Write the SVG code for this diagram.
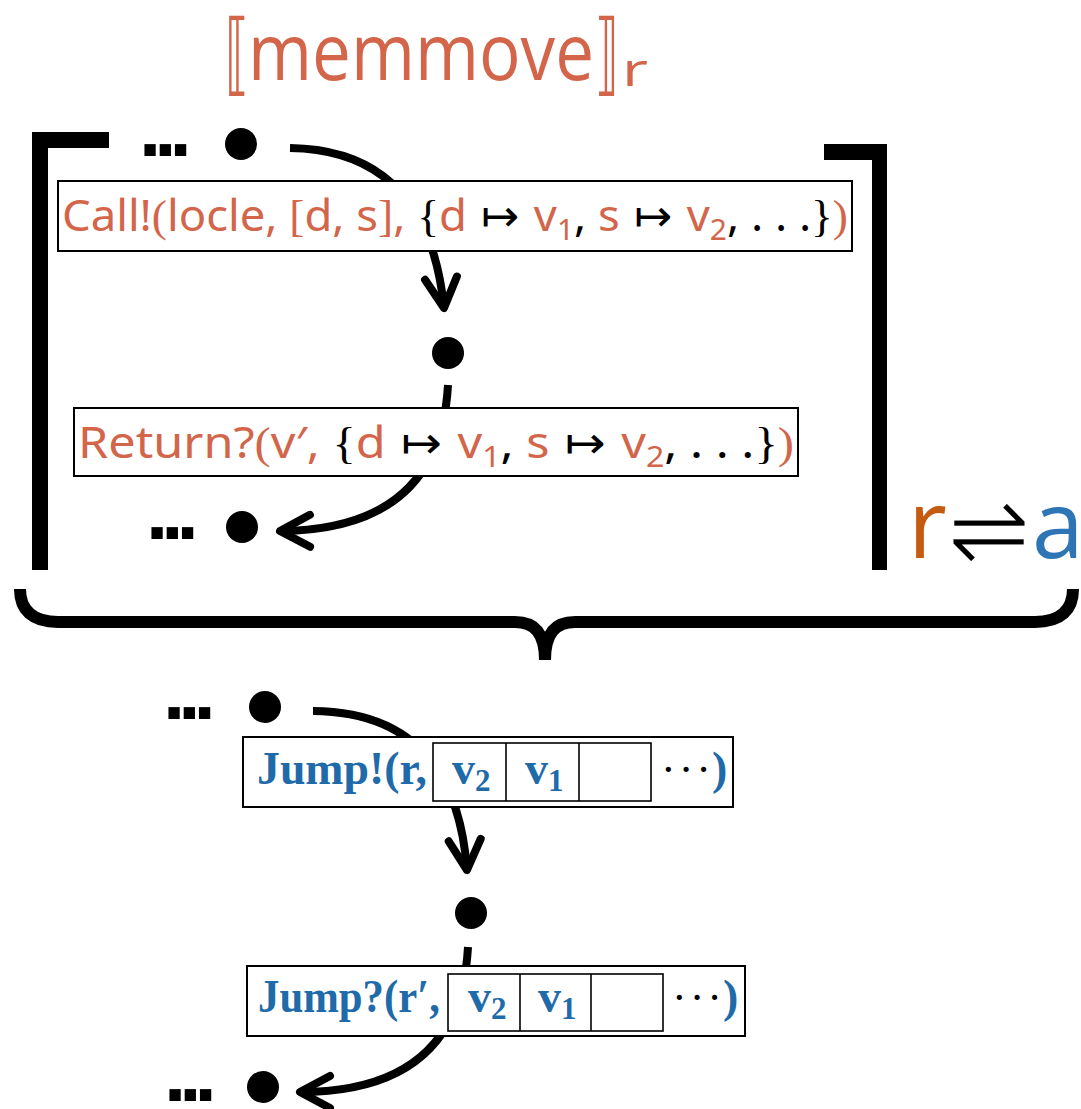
<svg xmlns="http://www.w3.org/2000/svg" width="1081" height="1109" viewBox="0 0 1081 1109">
  <style>
    .o { fill: #d2654a; }
    .k { fill: #000; }
    .b { fill: #1f6aa8; }
    .p { font-family: "Liberation Serif", "DejaVu Serif", serif; }
    .m { font-family: "DejaVu Sans", sans-serif; }
    .os { font-family: "Open Sans", "Noto Sans", sans-serif; }
    .lbl { font-family: "Noto Sans", "DejaVu Sans", sans-serif; font-size: 44px; }
    .sb { font-size: 29px; }
    .jmp { font-family: "Liberation Serif", "DejaVu Serif", serif; font-size: 46px; font-weight: bold; }
    .jsb { font-size: 31px; }
    .dots { font-family: "Liberation Serif", "DejaVu Serif", serif; font-size: 44px; fill: #000; }
    .ell { font-family: "Liberation Sans", Arial, sans-serif; font-weight: bold; font-size: 80px; letter-spacing: -7px; fill: #000; }
    .box { fill: #fff; stroke: #000; stroke-width: 2; }
    .cell { fill: none; stroke: #000; stroke-width: 1.6; }
    .bar { fill: #000; }
    .node { fill: #000; }
    .edge { fill: none; stroke: #000; stroke-width: 8; }
    .brace { fill: none; stroke: #000; stroke-width: 12; }
  </style>
  <defs>
    <marker id="chev" markerUnits="userSpaceOnUse" markerWidth="80" markerHeight="80" viewBox="-40 -40 80 80" refX="0" refY="0" orient="auto" overflow="visible">
      <path d="M-30,-16 L0,0 L-30,16" fill="none" stroke="#000" stroke-width="8" stroke-linecap="round" stroke-linejoin="round"/>
    </marker>
  </defs>

  <rect width="1081" height="1109" fill="#fff"/>

  <!-- semantic bracket title -->
  <g id="title">
    <text class="o m" x="225" y="84" font-size="90" textLength="24" lengthAdjust="spacingAndGlyphs">⟦</text>
    <text class="o os" x="248" y="80" font-size="78" textLength="346" lengthAdjust="spacingAndGlyphs">memmove</text>
    <text class="o m" x="595" y="84" font-size="90" textLength="24" lengthAdjust="spacingAndGlyphs">⟧</text>
    <text class="o os" x="622" y="86" font-size="46" textLength="26" lengthAdjust="spacingAndGlyphs">r</text>
  </g>

  <!-- square brackets around the source-level trace -->
  <g id="bracket-left">
    <rect class="bar" x="32" y="132" width="16" height="438"/>
    <rect class="bar" x="32" y="132" width="77" height="16"/>
  </g>
  <g id="bracket-right">
    <rect class="bar" x="824" y="144" width="63" height="16"/>
    <rect class="bar" x="872" y="144" width="15" height="426"/>
  </g>

  <!-- translation label r ⇌ a -->
  <g id="translation">
    <text class="os" x="908" y="558" font-size="95" fill="#c55a11">r</text>
    <text class="m" x="947" y="564" font-size="100" textLength="84" lengthAdjust="spacingAndGlyphs" fill="#000" stroke="#fff" stroke-width="3">⇌</text>
    <text class="os" x="1032" y="558" font-size="93" fill="#2e75b6">a</text>
  </g>

  <!-- underbrace -->
  <g id="underbrace">
    <path class="brace" d="M20,589 C20,610 32,622 58,622 L515,622 C535,622 545,634 545,660"/>
    <path class="brace" d="M1073,589 C1073,610 1061,622 1035,622 L575,622 C555,622 545,634 545,660"/>
  </g>

  <!-- connectors -->
  <g id="connectors">
    <path class="edge" d="M290,148 Q428,150 444,308" marker-end="url(#chev)"/>
    <path class="edge" d="M448,385 Q440,530 280,531" marker-end="url(#chev)"/>
    <path class="edge" d="M313,711 Q455,712 467,870" marker-end="url(#chev)"/>
    <path class="edge" d="M468,947 Q460,1092 300,1092" marker-end="url(#chev)"/>
  </g>

  <!-- trace nodes -->
  <g id="dot-1">
    <text class="ell" x="139" y="156">...</text>
    <circle class="node" cx="241" cy="144" r="16"/>
  </g>
  <g id="dot-2">
    <circle class="node" cx="448" cy="353" r="16"/>
  </g>
  <g id="dot-3">
    <text class="ell" x="146" y="539">...</text>
    <circle class="node" cx="242" cy="527" r="16"/>
  </g>
  <g id="dot-4">
    <text class="ell" x="163" y="719">...</text>
    <circle class="node" cx="265" cy="707" r="16"/>
  </g>
  <g id="dot-5">
    <circle class="node" cx="471" cy="913" r="16"/>
  </g>
  <g id="dot-6">
    <text class="ell" x="164" y="1101">...</text>
    <circle class="node" cx="263" cy="1087" r="16"/>
  </g>

  <!-- source-level events -->
  <g id="call-event">
    <rect class="box" x="58" y="181" width="794" height="70"/>
    <text class="lbl" x="62" y="231" textLength="786" lengthAdjust="spacingAndGlyphs"><tspan class="o">Call!</tspan><tspan class="o p">(</tspan><tspan class="o">locle, </tspan><tspan class="o p">[</tspan><tspan class="o">d, s</tspan><tspan class="o p">]</tspan><tspan class="o">, </tspan><tspan class="k p">{</tspan><tspan class="o">d</tspan><tspan class="k m"> ↦ </tspan><tspan class="o">v</tspan><tspan class="o sb" dy="9">1</tspan><tspan class="k" dy="-9">, </tspan><tspan class="o">s</tspan><tspan class="k m"> ↦ </tspan><tspan class="o">v</tspan><tspan class="o sb" dy="9">2</tspan><tspan class="k" dy="-9">, . . .</tspan><tspan class="k p">}</tspan><tspan class="o p">)</tspan></text>
  </g>

  <g id="return-event">
    <rect class="box" x="74" y="408" width="724" height="68"/>
    <text class="lbl" x="78" y="458" textLength="716" lengthAdjust="spacingAndGlyphs"><tspan class="o">Return?</tspan><tspan class="o p">(</tspan><tspan class="o">v′, </tspan><tspan class="k p">{</tspan><tspan class="o">d</tspan><tspan class="k m"> ↦ </tspan><tspan class="o">v</tspan><tspan class="o sb" dy="9">1</tspan><tspan class="k" dy="-9">, </tspan><tspan class="o">s</tspan><tspan class="k m"> ↦ </tspan><tspan class="o">v</tspan><tspan class="o sb" dy="9">2</tspan><tspan class="k" dy="-9">, . . .</tspan><tspan class="k p">}</tspan><tspan class="o p">)</tspan></text>
  </g>

  <!-- assembly-level events -->
  <g id="jump-out">
    <rect class="box" x="243" y="737" width="490" height="70"/>
    <rect class="cell" x="433" y="743" width="218" height="58"/>
    <line class="cell" x1="506" y1="743" x2="506" y2="801"/>
    <line class="cell" x1="579" y1="743" x2="579" y2="801"/>
    <text class="jmp b" x="257" y="784" textLength="170" lengthAdjust="spacingAndGlyphs">Jump!(r,</text>
    <text class="jmp b" x="452" y="784">v<tspan class="jsb" dy="7">2</tspan></text>
    <text class="jmp b" x="525" y="784">v<tspan class="jsb" dy="7">1</tspan></text>
    <text class="dots" x="661" y="784" textLength="50" lengthAdjust="spacing">· · ·</text>
    <text class="jmp b" x="712" y="784" font-weight="normal">)</text>
  </g>

  <g id="jump-in">
    <rect class="box" x="247" y="966" width="498" height="70"/>
    <rect class="cell" x="448" y="974" width="215" height="57"/>
    <line class="cell" x1="520" y1="974" x2="520" y2="1031"/>
    <line class="cell" x1="591" y1="974" x2="591" y2="1031"/>
    <text class="jmp b" x="258" y="1012" textLength="182" lengthAdjust="spacingAndGlyphs">Jump?(r′,</text>
    <text class="jmp b" x="468" y="1012">v<tspan class="jsb" dy="7">2</tspan></text>
    <text class="jmp b" x="538" y="1012">v<tspan class="jsb" dy="7">1</tspan></text>
    <text class="dots" x="672" y="1012" textLength="50" lengthAdjust="spacing">· · ·</text>
    <text class="jmp b" x="723" y="1012" font-weight="normal">)</text>
  </g>
</svg>
